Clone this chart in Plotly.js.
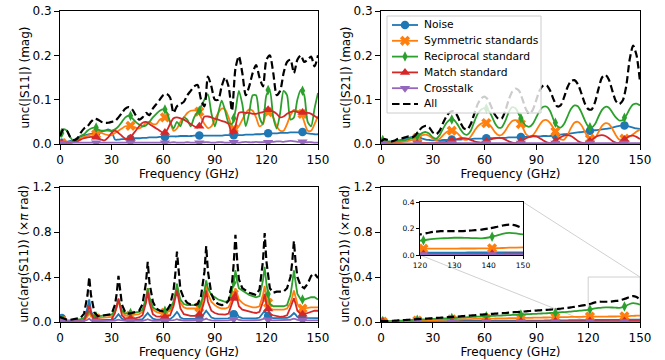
<!DOCTYPE html>
<html><head><meta charset="utf-8">
<script src="https://cdn.plot.ly/plotly-3.0.1.min.js"></script>
<style>html,body{margin:0;padding:0;background:#fff}#chart{width:665px;height:360px}</style>
</head><body><div id="chart"></div>
<script>
// ---------------- DATA ----------------
const seriesNames = ['Noise', 'Symmetric standards', 'Reciprocal standard', 'Match standard', 'Crosstalk', 'All'];
const yTitles = ['unc(|S11|) (mag)', 'unc(|S21|) (mag)', 'unc(arg(S11)) (×<i>π</i> rad)', 'unc(arg(S21)) (×<i>π</i> rad)'];
const xTitle = 'Frequency (GHz)';
const markerFreq = [1, 21, 41, 61, 81, 101, 121, 141];

// common 2-GHz grid (GHz)
const freq = [
  0,2,4,6,8,10,12,14,16,18,
  20,22,24,26,28,30,32,34,36,38,
  40,42,44,46,48,50,52,54,56,58,
  60,62,64,66,68,70,72,74,76,78,
  80,82,84,86,88,90,92,94,96,98,
  100,102,104,106,108,110,112,114,116,118,
  120,122,124,126,128,130,132,134,136,138,
  140,142,144,146,148,150];

// ---- unc(|S11|) (mag) ----
const s11MagNoise = [
  0.003,0.004,0.005,0.007,0.008,0.014,0.017,0.019,0.021,0.023,
  0.024,0.026,0.028,0.03,0.033,0.028,0.01,0.01,0.011,0.011,
  0.012,0.012,0.013,0.013,0.014,0.014,0.015,0.015,0.015,0.016,
  0.016,0.016,0.017,0.017,0.017,0.018,0.018,0.018,0.018,0.019,
  0.019,0.019,0.019,0.019,0.019,0.019,0.019,0.019,0.02,0.02,
  0.02,0.02,0.02,0.02,0.021,0.021,0.021,0.022,0.022,0.023,
  0.023,0.024,0.024,0.024,0.025,0.025,0.025,0.026,0.026,0.026,
  0.026,0.025,0.024,0.023,0.022,0.022];
const s11MagSym = [
  0.002,0.003,0.004,0.005,0.007,0.01,0.013,0.016,0.019,0.021,
  0.022,0.023,0.025,0.022,0.02,0.02,0.025,0.03,0.035,0.04,
  0.041,0.04,0.037,0.035,0.04,0.048,0.05,0.045,0.045,0.055,
  0.059,0.062,0.05,0.03,0.035,0.05,0.06,0.07,0.075,0.076,
  0.074,0.06,0.045,0.036,0.04,0.055,0.07,0.08,0.078,0.06,
  0.04,0.032,0.04,0.055,0.07,0.078,0.075,0.06,0.04,0.045,
  0.07,0.072,0.06,0.04,0.03,0.03,0.045,0.065,0.077,0.075,
  0.07,0.05,0.03,0.03,0.045,0.063];
const s11MagRecip = [
  0.015,0.033,0.03,0.015,0.006,0.01,0.018,0.022,0.03,0.035,
  0.037,0.033,0.03,0.03,0.03,0.03,0.033,0.04,0.05,0.06,
  0.064,0.058,0.05,0.044,0.04,0.042,0.05,0.06,0.068,0.075,
  0.078,0.072,0.05,0.035,0.05,0.04,0.06,0.055,0.04,0.06,
  0.072,0.085,0.1,0.112,0.07,0.04,0.07,0.098,0.075,0.048,
  0.045,0.075,0.12,0.09,0.04,0.07,0.11,0.11,0.06,0.045,
  0.11,0.12,0.06,0.035,0.07,0.12,0.11,0.055,0.06,0.1,
  0.122,0.11,0.05,0.04,0.08,0.115];
const s11MagMatch = [
  0.002,0.002,0.003,0.003,0.004,0.006,0.01,0.013,0.015,0.016,
  0.015,0.012,0.01,0.008,0.015,0.025,0.03,0.025,0.018,0.012,
  0.012,0.02,0.03,0.04,0.048,0.05,0.045,0.04,0.035,0.03,
  0.025,0.03,0.045,0.058,0.06,0.058,0.055,0.05,0.045,0.04,
  0.037,0.045,0.062,0.062,0.06,0.057,0.055,0.052,0.05,0.045,
  0.022,0.04,0.07,0.072,0.07,0.07,0.068,0.068,0.07,0.072,
  0.076,0.076,0.073,0.068,0.06,0.062,0.068,0.072,0.074,0.072,
  0.071,0.07,0.07,0.068,0.063,0.058];
const s11MagCross = [
  0.002,0.002,0.002,0.002,0.003,0.003,0.003,0.003,0.003,0.003,
  0.003,0.003,0.003,0.003,0.003,0.003,0.003,0.003,0.003,0.003,
  0.003,0.003,0.003,0.003,0.003,0.003,0.003,0.003,0.003,0.003,
  0.003,0.003,0.003,0.004,0.003,0.003,0.003,0.004,0.003,0.003,
  0.003,0.003,0.004,0.004,0.003,0.003,0.004,0.004,0.003,0.003,
  0.004,0.004,0.003,0.004,0.005,0.004,0.004,0.005,0.004,0.004,
  0.004,0.005,0.005,0.006,0.006,0.005,0.006,0.007,0.006,0.005,
  0.005,0.004,0.004,0.004,0.003,0.003];
const s11MagAll = [
  0.018,0.033,0.03,0.015,0.009,0.012,0.025,0.035,0.04,0.05,
  0.057,0.055,0.05,0.048,0.048,0.05,0.052,0.06,0.07,0.08,
  0.083,0.078,0.065,0.055,0.06,0.07,0.065,0.08,0.09,0.1,
  0.11,0.113,0.105,0.07,0.085,0.09,0.095,0.11,0.12,0.13,
  0.133,0.1,0.085,0.152,0.13,0.1,0.1,0.13,0.15,0.13,
  0.075,0.17,0.198,0.16,0.11,0.13,0.16,0.178,0.15,0.13,
  0.19,0.2,0.16,0.11,0.12,0.16,0.185,0.19,0.16,0.19,
  0.2,0.185,0.19,0.197,0.175,0.2];
const s11MagNoiseMk = [0.003,0.025,0.012,0.016,0.019,0.02,0.024,0.027];
const s11MagSymMk   = [0.002,0.022,0.041,0.06,0.073,0.035,0.072,0.068];
const s11MagRecipMk = [0.025,0.037,0.064,0.078,0.075,0.058,0.122,0.12];
const s11MagMatchMk = [0.002,0.015,0.013,0.026,0.04,0.028,0.077,0.071];
const s11MagCrossMk = [0.002,0.003,0.003,0.003,0.003,0.004,0.004,0.005];

// ---- unc(|S21|) (mag) ----
const s21MagNoise = [
  0.003,0.004,0.005,0.006,0.007,0.008,0.01,0.012,0.014,0.016,
  0.017,0.015,0.012,0.01,0.009,0.008,0.008,0.008,0.009,0.009,
  0.009,0.01,0.01,0.01,0.011,0.011,0.011,0.012,0.012,0.012,
  0.013,0.013,0.013,0.013,0.014,0.014,0.014,0.015,0.015,0.015,
  0.016,0.016,0.016,0.016,0.017,0.017,0.017,0.018,0.018,0.018,
  0.019,0.02,0.021,0.022,0.023,0.024,0.025,0.026,0.027,0.028,
  0.029,0.03,0.031,0.032,0.033,0.034,0.035,0.037,0.039,0.041,
  0.042,0.041,0.039,0.037,0.035,0.034];
const s21MagSym = [
  0.001,0.002,0.002,0.003,0.003,0.004,0.005,0.006,0.007,0.009,
  0.012,0.016,0.02,0.021,0.018,0.012,0.009,0.012,0.02,0.027,
  0.03,0.03,0.025,0.017,0.01,0.01,0.017,0.029,0.04,0.046,
  0.048,0.046,0.038,0.027,0.02,0.021,0.03,0.043,0.052,0.054,
  0.05,0.038,0.022,0.017,0.02,0.031,0.044,0.053,0.054,0.047,
  0.035,0.02,0.011,0.01,0.02,0.036,0.048,0.05,0.043,0.028,
  0.015,0.01,0.014,0.027,0.041,0.047,0.045,0.034,0.02,0.01,
  0.011,0.013,0.017,0.022,0.028,0.033];
const s21MagRecip = [
  0.01,0.008,0.006,0.005,0.006,0.007,0.008,0.009,0.011,0.013,
  0.016,0.02,0.025,0.027,0.023,0.015,0.012,0.02,0.035,0.048,
  0.055,0.055,0.046,0.033,0.023,0.021,0.03,0.05,0.068,0.078,
  0.081,0.077,0.064,0.047,0.037,0.038,0.052,0.072,0.083,0.08,
  0.066,0.051,0.041,0.039,0.046,0.061,0.076,0.084,0.084,0.074,
  0.054,0.041,0.037,0.045,0.062,0.079,0.087,0.085,0.072,0.054,
  0.04,0.037,0.045,0.062,0.077,0.084,0.082,0.071,0.06,0.053,
  0.054,0.064,0.079,0.089,0.091,0.087];
const s21MagMatch = [
  0.001,0.001,0.001,0.001,0.001,0.001,0.001,0.001,0.001,0.001,
  0.001,0.002,0.002,0.002,0.002,0.002,0.003,0.004,0.004,0.005,
  0.007,0.009,0.011,0.013,0.013,0.012,0.009,0.006,0.004,0.003,
  0.005,0.008,0.011,0.013,0.014,0.013,0.01,0.006,0.003,0.002,
  0.004,0.008,0.013,0.016,0.018,0.017,0.013,0.008,0.004,0.002,
  0.004,0.009,0.015,0.019,0.02,0.018,0.013,0.007,0.003,0.002,
  0.004,0.009,0.015,0.019,0.02,0.018,0.013,0.007,0.003,0.003,
  0.007,0.013,0.018,0.019,0.016,0.011];
const s21MagCross = [
  0.001,0.001,0.001,0.001,0.001,0.001,0.001,0.001,0.001,0.001,
  0.001,0.001,0.001,0.001,0.002,0.002,0.002,0.002,0.002,0.002,
  0.002,0.002,0.002,0.002,0.002,0.002,0.002,0.002,0.002,0.002,
  0.002,0.002,0.002,0.002,0.002,0.002,0.002,0.002,0.002,0.002,
  0.002,0.002,0.002,0.002,0.002,0.002,0.002,0.002,0.002,0.002,
  0.002,0.002,0.002,0.002,0.002,0.002,0.002,0.002,0.002,0.002,
  0.002,0.002,0.002,0.002,0.002,0.002,0.002,0.002,0.002,0.002,
  0.002,0.002,0.002,0.002,0.002,0.002];
const s21MagAll = [
  0.006,0.011,0.009,0.006,0.008,0.012,0.013,0.015,0.017,0.015,
  0.02,0.03,0.038,0.041,0.037,0.026,0.022,0.03,0.048,0.063,
  0.072,0.074,0.065,0.048,0.035,0.033,0.045,0.068,0.09,0.103,
  0.107,0.1,0.083,0.066,0.057,0.058,0.075,0.1,0.118,0.125,
  0.12,0.1,0.078,0.068,0.078,0.1,0.122,0.132,0.132,0.12,
  0.1,0.085,0.087,0.105,0.128,0.142,0.144,0.135,0.115,0.092,
  0.079,0.078,0.095,0.125,0.15,0.156,0.145,0.12,0.097,0.09,
  0.098,0.13,0.19,0.222,0.2,0.14];
const s21MagNoiseMk = [0.003,0.016,0.01,0.013,0.016,0.02,0.03,0.042];
const s21MagSymMk   = [0.002,0.014,0.03,0.047,0.045,0.028,0.012,0.012];
const s21MagRecipMk = [0.009,0.018,0.055,0.08,0.058,0.048,0.038,0.059];
const s21MagMatchMk = [0.001,0.001,0.008,0.006,0.006,0.006,0.006,0.01];
const s21MagCrossMk = [0.002,0.002,0.002,0.002,0.002,0.002,0.002,0.002];

// ---- unc(arg(S11)) (x pi rad) : finer grid around resonances ----
const s11ArgFreq = [
  0,2,4,6,8,10,12,14,16,17,18,
  20,22,24,26,28,30,32,33,34,35,36,
  38,40,42,44,46,48,50,51,52,54,56,
  58,60,62,64,66,67,68,69,70,72,74,
  76,78,80,82,84,85,86,88,90,92,94,
  96,98,100,101,102,103,104,106,108,110,112,
  114,116,118,119,120,122,124,126,128,130,132,
  134,135,136,137,138,140,142,144,146,148,150];
const s11ArgNoise = [
  0.05,0.025,0.012,0.01,0.01,0.01,0.012,0.02,0.13,0.2,0.1,
  0.02,0.015,0.015,0.016,0.016,0.017,0.03,0.05,0.07,0.05,0.03,
  0.018,0.018,0.019,0.019,0.02,0.025,0.06,0.08,0.06,0.03,0.022,
  0.022,0.022,0.023,0.025,0.05,0.07,0.09,0.07,0.04,0.027,0.026,
  0.026,0.026,0.027,0.035,0.08,0.1,0.08,0.04,0.03,0.03,0.03,
  0.03,0.032,0.05,0.07,0.09,0.07,0.045,0.035,0.033,0.032,0.032,
  0.032,0.04,0.08,0.1,0.075,0.038,0.034,0.034,0.034,0.034,0.036,
  0.05,0.065,0.08,0.065,0.045,0.036,0.035,0.035,0.035,0.035,0.035];
const s11ArgSym = [
  0.01,0.008,0.006,0.006,0.008,0.01,0.012,0.015,0.05,0.08,0.05,
  0.03,0.035,0.038,0.04,0.042,0.045,0.09,0.13,0.19,0.13,0.09,
  0.055,0.058,0.06,0.065,0.07,0.09,0.2,0.3,0.21,0.11,0.09,
  0.08,0.08,0.085,0.1,0.17,0.24,0.32,0.24,0.17,0.13,0.12,
  0.12,0.12,0.12,0.14,0.24,0.33,0.25,0.18,0.15,0.13,0.12,
  0.12,0.13,0.2,0.25,0.3,0.25,0.2,0.17,0.15,0.14,0.13,
  0.13,0.14,0.24,0.32,0.22,0.12,0.11,0.11,0.11,0.11,0.12,
  0.17,0.22,0.28,0.22,0.16,0.12,0.12,0.125,0.13,0.13,0.13];
const s11ArgRecip = [
  0.03,0.022,0.015,0.015,0.018,0.02,0.025,0.035,0.07,0.1,0.075,
  0.05,0.05,0.055,0.06,0.062,0.065,0.1,0.14,0.2,0.14,0.1,
  0.075,0.078,0.08,0.085,0.09,0.11,0.21,0.3,0.22,0.13,0.11,
  0.1,0.1,0.105,0.12,0.18,0.25,0.34,0.26,0.2,0.16,0.15,
  0.15,0.15,0.15,0.17,0.28,0.37,0.3,0.24,0.22,0.2,0.19,
  0.18,0.19,0.28,0.35,0.46,0.36,0.3,0.28,0.26,0.24,0.23,
  0.22,0.23,0.37,0.49,0.34,0.16,0.14,0.14,0.14,0.14,0.15,
  0.24,0.34,0.46,0.35,0.25,0.2,0.2,0.21,0.22,0.22,0.2];
const s11ArgMatch = [
  0.01,0.006,0.005,0.005,0.006,0.007,0.008,0.01,0.09,0.15,0.08,
  0.015,0.015,0.017,0.018,0.02,0.022,0.08,0.14,0.21,0.13,0.06,
  0.03,0.03,0.032,0.035,0.04,0.06,0.17,0.27,0.17,0.07,0.05,
  0.045,0.045,0.05,0.06,0.14,0.21,0.28,0.2,0.12,0.07,0.06,
  0.055,0.055,0.06,0.08,0.19,0.28,0.18,0.1,0.08,0.07,0.065,
  0.065,0.075,0.16,0.21,0.27,0.2,0.14,0.11,0.1,0.09,0.085,
  0.08,0.09,0.18,0.25,0.16,0.07,0.06,0.05,0.045,0.05,0.06,
  0.13,0.17,0.21,0.16,0.1,0.07,0.07,0.08,0.09,0.1,0.1];
const s11ArgCross = [
  0.012,0.01,0.008,0.008,0.008,0.008,0.008,0.009,0.02,0.03,0.015,
  0.009,0.009,0.009,0.009,0.009,0.009,0.012,0.016,0.02,0.016,0.012,
  0.01,0.01,0.01,0.01,0.01,0.011,0.018,0.025,0.018,0.011,0.011,
  0.011,0.011,0.011,0.012,0.016,0.02,0.025,0.02,0.015,0.012,0.012,
  0.012,0.012,0.012,0.014,0.022,0.03,0.022,0.014,0.013,0.013,0.013,
  0.013,0.014,0.02,0.025,0.03,0.025,0.018,0.014,0.014,0.014,0.014,
  0.014,0.016,0.026,0.035,0.026,0.016,0.015,0.015,0.015,0.015,0.016,
  0.02,0.025,0.03,0.025,0.018,0.015,0.015,0.015,0.015,0.015,0.015];
const s11ArgAll = [
  0.045,0.03,0.02,0.02,0.025,0.03,0.036,0.075,0.24,0.40,0.24,
  0.085,0.052,0.055,0.06,0.065,0.07,0.155,0.257,0.41,0.257,0.155,
  0.084,0.075,0.08,0.09,0.1,0.16,0.35,0.535,0.35,0.18,0.12,
  0.1,0.095,0.1,0.15,0.28,0.42,0.625,0.42,0.29,0.21,0.17,
  0.155,0.15,0.16,0.23,0.45,0.675,0.45,0.25,0.18,0.16,0.15,
  0.155,0.19,0.34,0.52,0.775,0.55,0.38,0.3,0.28,0.26,0.25,
  0.24,0.29,0.54,0.79,0.54,0.3,0.26,0.27,0.27,0.27,0.3,
  0.4,0.53,0.72,0.53,0.4,0.32,0.3,0.34,0.41,0.43,0.39];
const s11ArgNoiseMk = [0.035,0.017,0.018,0.022,0.031,0.07,0.056,0.036];
const s11ArgSymMk   = [0.009,0.032,0.058,0.082,0.13,0.25,0.17,0.12];
const s11ArgRecipMk = [0.025,0.05,0.079,0.1,0.16,0.35,0.25,0.2];
const s11ArgMatchMk = [0.008,0.015,0.031,0.045,0.07,0.21,0.115,0.07];
const s11ArgCrossMk = [0.011,0.009,0.01,0.011,0.012,0.025,0.02,0.015];

// ---- unc(arg(S21)) (x pi rad) ----
const s21ArgNoise = [
  0.003,0.003,0.003,0.004,0.004,0.004,0.004,0.005,0.005,0.005,
  0.005,0.005,0.006,0.006,0.006,0.006,0.007,0.007,0.007,0.008,
  0.008,0.008,0.008,0.009,0.009,0.009,0.009,0.009,0.01,0.01,
  0.01,0.01,0.01,0.011,0.011,0.011,0.011,0.011,0.012,0.012,
  0.012,0.012,0.012,0.013,0.013,0.013,0.013,0.013,0.014,0.014,
  0.014,0.014,0.015,0.015,0.015,0.016,0.016,0.016,0.017,0.017,
  0.017,0.017,0.018,0.018,0.018,0.018,0.018,0.019,0.019,0.019,
  0.019,0.02,0.02,0.02,0.02,0.02];
const s21ArgSym = [
  0.002,0.003,0.004,0.005,0.006,0.007,0.008,0.009,0.01,0.011,
  0.012,0.013,0.014,0.015,0.016,0.017,0.018,0.019,0.02,0.021,
  0.022,0.023,0.023,0.024,0.025,0.026,0.026,0.027,0.028,0.028,
  0.029,0.03,0.03,0.031,0.032,0.032,0.033,0.034,0.034,0.035,
  0.036,0.036,0.037,0.037,0.038,0.039,0.039,0.04,0.04,0.041,
  0.042,0.042,0.043,0.043,0.044,0.045,0.045,0.046,0.046,0.047,
  0.047,0.048,0.048,0.048,0.048,0.048,0.049,0.049,0.049,0.05,
  0.05,0.051,0.053,0.055,0.056,0.057];
const s21ArgRecip = [
  0.01,0.006,0.006,0.007,0.009,0.011,0.012,0.014,0.016,0.018,
  0.02,0.021,0.023,0.024,0.026,0.027,0.029,0.03,0.032,0.033,
  0.035,0.036,0.038,0.04,0.041,0.043,0.044,0.046,0.048,0.049,
  0.051,0.052,0.054,0.055,0.057,0.058,0.06,0.061,0.063,0.064,
  0.066,0.067,0.069,0.07,0.072,0.073,0.075,0.076,0.078,0.08,
  0.082,0.084,0.086,0.088,0.09,0.093,0.096,0.099,0.102,0.105,
  0.108,0.115,0.121,0.125,0.128,0.13,0.13,0.129,0.127,0.126,
  0.132,0.145,0.16,0.167,0.163,0.155];
const s21ArgMatch = [
  0.001,0.001,0.001,0.001,0.001,0.001,0.001,0.001,0.001,0.001,
  0.002,0.002,0.002,0.002,0.002,0.002,0.002,0.002,0.002,0.002,
  0.003,0.003,0.003,0.003,0.003,0.003,0.003,0.003,0.003,0.003,
  0.004,0.004,0.004,0.004,0.004,0.004,0.004,0.004,0.004,0.004,
  0.005,0.005,0.005,0.005,0.005,0.005,0.005,0.005,0.005,0.005,
  0.006,0.006,0.006,0.006,0.007,0.007,0.007,0.007,0.007,0.008,
  0.008,0.008,0.008,0.008,0.008,0.008,0.008,0.008,0.008,0.008,
  0.009,0.009,0.009,0.01,0.01,0.01];
const s21ArgCross = [
  0.002,0.002,0.002,0.002,0.002,0.002,0.002,0.002,0.002,0.002,
  0.002,0.002,0.002,0.002,0.002,0.002,0.002,0.002,0.002,0.002,
  0.002,0.002,0.002,0.002,0.002,0.002,0.002,0.002,0.002,0.002,
  0.003,0.003,0.003,0.003,0.003,0.003,0.003,0.003,0.003,0.003,
  0.003,0.003,0.003,0.003,0.003,0.003,0.003,0.003,0.003,0.003,
  0.003,0.003,0.003,0.003,0.003,0.003,0.003,0.003,0.003,0.003,
  0.004,0.004,0.004,0.004,0.004,0.004,0.004,0.004,0.004,0.004,
  0.004,0.004,0.004,0.004,0.004,0.004];
const s21ArgAll = [
  0.01,0.008,0.008,0.01,0.012,0.014,0.016,0.018,0.02,0.022,
  0.024,0.026,0.028,0.03,0.032,0.034,0.036,0.038,0.04,0.042,
  0.044,0.046,0.048,0.05,0.053,0.055,0.058,0.06,0.063,0.066,
  0.068,0.07,0.072,0.074,0.076,0.078,0.08,0.083,0.086,0.088,
  0.09,0.092,0.095,0.098,0.1,0.102,0.104,0.106,0.108,0.11,
  0.112,0.115,0.118,0.122,0.126,0.13,0.135,0.14,0.145,0.15,
  0.155,0.165,0.175,0.18,0.18,0.18,0.18,0.183,0.187,0.192,
  0.2,0.21,0.222,0.23,0.222,0.2];
const s21ArgNoiseMk = [0.003,0.005,0.008,0.01,0.012,0.014,0.017,0.019];
const s21ArgSymMk   = [0.0025,0.0125,0.0225,0.0295,0.036,0.042,0.0475,0.0505];
const s21ArgRecipMk = [0.008,0.0205,0.0355,0.0515,0.0665,0.083,0.111,0.138];
const s21ArgMatchMk = [0.001,0.002,0.003,0.004,0.005,0.006,0.008,0.009];
const s21ArgCrossMk = [0.002,0.002,0.002,0.003,0.003,0.003,0.004,0.004];

// inset ranges
const insetXRange = [120, 150];
const insetYRange = [0, 0.4];

// ---------------- STYLES ----------------
const FONT = 'DejaVu Sans, Arial, sans-serif';
const styles = [
  {color: '#1f77b4', symbol: 'circle', size: 8.5},
  {color: '#ff7f0e', symbol: 'x', size: 9},
  {color: '#2ca02c', symbol: 'diamond-tall', size: 7.5},
  {color: '#d62728', symbol: 'triangle-up', size: 9},
  {color: '#9467bd', symbol: 'triangle-down', size: 9}
];
const allLine = {color: '#000000', width: 2.2, dash: '7.5px,3.5px'};

function panelTraces(xa, ya, f, comps, marks, all, shape) {
  const t = [];
  comps.forEach(function (ys, i) {
    t.push({type: 'scatter', name: seriesNames[i], x: f, y: ys, xaxis: xa, yaxis: ya, mode: 'lines',
      line: {color: styles[i].color, width: 1.8, shape: shape, smoothing: 0.7},
      showlegend: false, hoverinfo: 'skip'});
    t.push({type: 'scatter', name: seriesNames[i], x: markerFreq, y: marks[i], xaxis: xa, yaxis: ya, mode: 'markers',
      marker: {color: styles[i].color, symbol: styles[i].symbol, size: styles[i].size, line: {width: 0}},
      showlegend: false, hoverinfo: 'skip'});
  });
  t.push({type: 'scatter', name: seriesNames[5], x: f, y: all, xaxis: xa, yaxis: ya, mode: 'lines',
    line: Object.assign({shape: shape, smoothing: 0.7}, allLine), showlegend: false, hoverinfo: 'skip'});
  return t;
}

let traces = [];
traces = traces.concat(panelTraces('x', 'y', freq,
  [s11MagNoise, s11MagSym, s11MagRecip, s11MagMatch, s11MagCross],
  [s11MagNoiseMk, s11MagSymMk, s11MagRecipMk, s11MagMatchMk, s11MagCrossMk], s11MagAll, 'spline'));
traces = traces.concat(panelTraces('x2', 'y2', freq,
  [s21MagNoise, s21MagSym, s21MagRecip, s21MagMatch, s21MagCross],
  [s21MagNoiseMk, s21MagSymMk, s21MagRecipMk, s21MagMatchMk, s21MagCrossMk], s21MagAll, 'spline'));
traces = traces.concat(panelTraces('x3', 'y3', s11ArgFreq,
  [s11ArgNoise, s11ArgSym, s11ArgRecip, s11ArgMatch, s11ArgCross],
  [s11ArgNoiseMk, s11ArgSymMk, s11ArgRecipMk, s11ArgMatchMk, s11ArgCrossMk], s11ArgAll, 'linear'));
const s21ArgComps = [s21ArgNoise, s21ArgSym, s21ArgRecip, s21ArgMatch, s21ArgCross];
const s21ArgMarks = [s21ArgNoiseMk, s21ArgSymMk, s21ArgRecipMk, s21ArgMatchMk, s21ArgCrossMk];
traces = traces.concat(panelTraces('x4', 'y4', freq, s21ArgComps, s21ArgMarks, s21ArgAll, 'spline'));
traces = traces.concat(panelTraces('x5', 'y5', freq, s21ArgComps, s21ArgMarks, s21ArgAll, 'spline'));

// ---------------- LAYOUT ----------------
const W = 665, H = 360;
const colL = [60 / W, 318 / W], colR = [381 / W, 640 / W];
const rowT = [(H - 144) / H, (H - 11) / H], rowB = [(H - 322) / H, (H - 187) / H];
const insetX = [420 / W, 523 / W], insetY = [(H - 255) / H, (H - 202) / H];

// legend box (pixel geometry, matplotlib-like compact legend drawn on a helper axis)
const LEG = {left: 387, top: 16, width: 154, height: 97, rowTop: 9, rowStep: 15.8,
  lineX0: 5, lineX1: 31, textX: 35, fontSize: 10.7};
const legX = [(LEG.left - 1) / W, (LEG.left + LEG.width + 1) / W];
const legY = [(H - (LEG.top + LEG.height + 1)) / H, (H - (LEG.top - 1)) / H];

traces.push({type: 'scatter', xaxis: 'x6', yaxis: 'y6', mode: 'lines',
  x: [0, LEG.width, LEG.width, 0, 0], y: [0, 0, LEG.height, LEG.height, 0],
  fill: 'toself', fillcolor: 'rgba(255,255,255,0.8)', line: {color: '#cccccc', width: 1},
  showlegend: false, hoverinfo: 'skip'});
const annotations = [];
seriesNames.forEach(function (n, i) {
  const yy = LEG.rowTop + i * LEG.rowStep;
  if (i < 5) {
    traces.push({type: 'scatter', xaxis: 'x6', yaxis: 'y6', mode: 'lines', showlegend: false, hoverinfo: 'skip',
      x: [LEG.lineX0, LEG.lineX1], y: [yy, yy], line: {color: styles[i].color, width: 1.8}});
    traces.push({type: 'scatter', xaxis: 'x6', yaxis: 'y6', mode: 'markers', showlegend: false, hoverinfo: 'skip',
      x: [(LEG.lineX0 + LEG.lineX1) / 2], y: [yy],
      marker: {color: styles[i].color, symbol: styles[i].symbol, size: styles[i].size, line: {width: 0}}});
  } else {
    traces.push({type: 'scatter', xaxis: 'x6', yaxis: 'y6', mode: 'lines', showlegend: false, hoverinfo: 'skip',
      x: [LEG.lineX0, LEG.lineX1], y: [yy, yy], line: allLine});
  }
  annotations.push({xref: 'paper', yref: 'paper', x: (LEG.left + LEG.textX) / W,
    y: (H - (LEG.top + yy)) / H, xanchor: 'left', yanchor: 'middle', showarrow: false,
    text: n, font: {family: FONT, size: LEG.fontSize, color: '#000'}});
});

// y-axis titles (placed like matplotlib's labels)
const yTitleX = [24 / W, 345 / W, 24 / W, 345 / W];
const yTitleY = [(rowT[0] + rowT[1]) / 2, (rowT[0] + rowT[1]) / 2, (rowB[0] + rowB[1]) / 2, (rowB[0] + rowB[1]) / 2];
yTitles.forEach(function (t, i) {
  annotations.push({xref: 'paper', yref: 'paper', x: yTitleX[i], y: yTitleY[i], xanchor: 'center', yanchor: 'middle',
    textangle: -90, showarrow: false, text: t, font: {family: FONT, size: 12, color: '#000'}});
});

function xAx(domain, anchor, range, dtick, fs, withTitle) {
  const a = {domain: domain, anchor: anchor, range: range, dtick: dtick, tick0: range[0],
    ticks: 'outside', ticklen: withTitle ? 5 : 3, tickwidth: 1, tickcolor: '#000',
    showline: true, mirror: true, linecolor: '#000', linewidth: 1,
    showgrid: false, zeroline: false, fixedrange: true,
    tickfont: {family: FONT, size: fs, color: '#000'}};
  if (withTitle) a.title = {text: xTitle, font: {family: FONT, size: 12, color: '#000'}, standoff: 0};
  return a;
}
function yAx(domain, anchor, range, dtick, fs) {
  return {domain: domain, anchor: anchor, range: range, dtick: dtick, tick0: 0, tickformat: '.1f',
    ticks: 'outside', ticklen: fs > 10 ? 5 : 3, tickwidth: 1, tickcolor: '#000',
    showline: true, mirror: true, linecolor: '#000', linewidth: 1,
    showgrid: false, zeroline: false, fixedrange: true,
    tickfont: {family: FONT, size: fs, color: '#000'}};
}

// zoom box & connectors (layout decorations)
const bx0 = colR[0] + (insetXRange[0] / 150) * (colR[1] - colR[0]);
const bx1 = colR[0] + (insetXRange[1] / 150) * (colR[1] - colR[0]);
const by1 = rowB[0] + (insetYRange[1] / 1.2) * (rowB[1] - rowB[0]);
const grayLine = {color: '#c4c4c4', width: 0.8};

const layout = {
  width: W, height: H,
  margin: {l: 0, r: 0, t: 0, b: 0},
  paper_bgcolor: '#fff', plot_bgcolor: 'rgba(0,0,0,0)',
  font: {family: FONT, size: 12, color: '#000'},
  showlegend: false,
  xaxis: xAx(colL, 'y', [0, 150], 30, 12, true),
  yaxis: yAx(rowT, 'x', [0, 0.3], 0.1, 12),
  xaxis2: xAx(colR, 'y2', [0, 150], 30, 12, true),
  yaxis2: yAx(rowT, 'x2', [0, 0.3], 0.1, 12),
  xaxis3: xAx(colL, 'y3', [0, 150], 30, 12, true),
  yaxis3: yAx(rowB, 'x3', [0, 1.2], 0.4, 12),
  xaxis4: xAx(colR, 'y4', [0, 150], 30, 12, true),
  yaxis4: yAx(rowB, 'x4', [0, 1.2], 0.4, 12),
  xaxis5: xAx(insetX, 'y5', insetXRange, 10, 7.5, false),
  yaxis5: yAx(insetY, 'x5', insetYRange, 0.2, 7.5),
  xaxis6: {domain: legX, anchor: 'y6', range: [-1, LEG.width + 1], visible: false, fixedrange: true},
  yaxis6: {domain: legY, anchor: 'x6', range: [LEG.height + 1, -1], visible: false, fixedrange: true},
  annotations: annotations,
  shapes: [
    {type: 'rect', xref: 'x4', yref: 'y4', x0: insetXRange[0], x1: insetXRange[1],
      y0: insetYRange[0], y1: insetYRange[1], line: grayLine, layer: 'below'},
    {type: 'line', xref: 'paper', yref: 'paper', x0: insetX[1], y0: insetY[1], x1: bx1, y1: by1, line: grayLine, layer: 'below'},
    {type: 'line', xref: 'paper', yref: 'paper', x0: insetX[0], y0: insetY[0], x1: bx0, y1: rowB[0], line: grayLine, layer: 'below'}
  ]
};

Plotly.newPlot('chart', traces, layout, {displayModeBar: false, staticPlot: true});
</script></body></html>
